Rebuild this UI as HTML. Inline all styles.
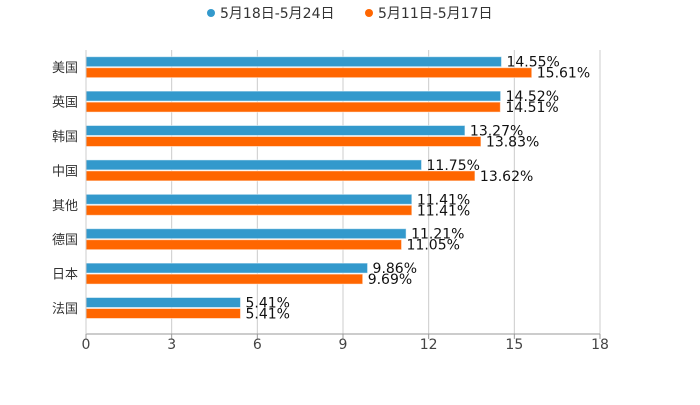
<!DOCTYPE html>
<html><head><meta charset="utf-8"><style>
body{margin:0;background:#fff;width:700px;height:400px;overflow:hidden}
svg text{font-family:"DejaVu Sans","Noto Sans CJK SC",sans-serif}
</style></head><body>
<svg id="chart" width="700" height="400" xmlns="http://www.w3.org/2000/svg">
<g>
<g><circle cx="211" cy="13" r="4" fill="#3399cc"/><text x="220" y="18" font-size="14" fill="#333">5月18日-5月24日</text></g>
<g><circle cx="369" cy="13" r="4" fill="#ff6600"/><text x="378" y="18" font-size="14" fill="#333">5月11日-5月17日</text></g>
</g>
<g id="grid"></g>
<g id="bars"></g>
<g id="axes"></g>
</svg>
<script>
const categories=["美国","英国","韩国","中国","其他","德国","日本","法国"];
const seriesA=[14.55,14.52,13.27,11.75,11.41,11.21,9.86,5.41];
const seriesB=[15.61,14.51,13.83,13.62,11.41,11.05,9.69,5.41];
const ticks=[0,3,6,9,12,15,18];
const NS="http://www.w3.org/2000/svg";
const x0=86,x1=600,xmax=18,yTop=50,yBot=334,rowStart=50,rowH=34.4;
const xs=v=>x0+v/xmax*(x1-x0);
function mk(t,a,p){const e=document.createElementNS(NS,t);for(const k in a)e.setAttribute(k,a[k]);p.appendChild(e);return e;}
const grid=document.getElementById('grid'),bars=document.getElementById('bars'),axes=document.getElementById('axes');
ticks.forEach(t=>{
  const l=mk('line',{x1:xs(t),x2:xs(t),y1:yTop,y2:yBot,stroke:'#ccc','stroke-width':1},grid);
  
  
  const tk=mk('line',{x1:xs(t),x2:xs(t),y1:yBot,y2:yBot+5,stroke:'#999'},axes);
  
  
  const tx=mk('text',{x:xs(t),y:yBot+15,'font-size':14,fill:'#444','text-anchor':'middle'},axes);
  tx.textContent=t;
  
  
});
const ax=mk('line',{x1:x0,x2:x1,y1:yBot,y2:yBot,stroke:'#999'},axes);


const ay=mk('line',{x1:x0,x2:x0,y1:yTop,y2:yBot,stroke:'#ccc'},axes);


categories.forEach((c,i)=>{
  const cy=rowStart+rowH*(i+0.5);
  const lb=mk('text',{x:x0-8,y:cy+5,'font-size':13,fill:'#333','text-anchor':'end'},axes);
  lb.textContent=c;
  
  
  [[seriesA,'#3399cc',cy-11],[seriesB,'#ff6600',cy]].forEach(([s,col,y],j)=>{
    const r=mk('rect',{x:x0,y:y+0.5,width:xs(s[i])-x0,height:10,fill:col,stroke:'#fff','stroke-opacity':0.5,'stroke-width':1},bars);
    
    
    const t=mk('text',{x:xs(s[i])+5,y:y+10.5,'font-size':14,fill:'#111'},bars);
    t.textContent=s[i].toFixed(2)+'%';
    
    
  });
});
</script>
</body></html>
